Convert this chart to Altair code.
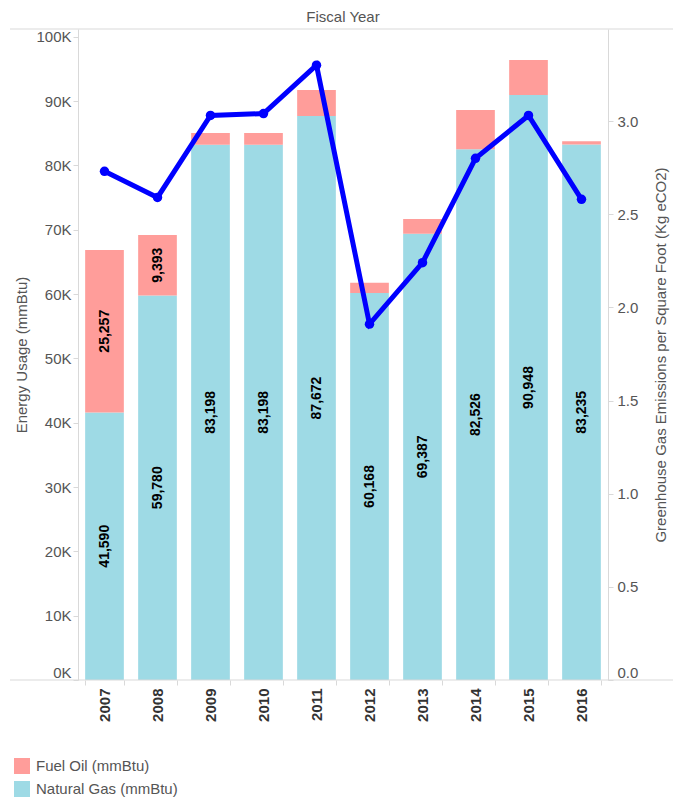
import altair as alt
import pandas as pd

years = ["2007", "2008", "2009", "2010", "2011", "2012", "2013", "2014", "2015", "2016"]
natural_gas = [41590, 59780, 83198, 83198, 87672, 60168, 69387, 82526, 90948, 83235]
fuel_oil = [25257, 9393, 1830, 1830, 4050, 1590, 2270, 6080, 5430, 500]
ghg_per_sqft = [2.73, 2.59, 3.03, 3.04, 3.30, 1.91, 2.24, 2.80, 3.03, 2.58]

series_names = ["Fuel Oil (mmBtu)", "Natural Gas (mmBtu)"]
series_colors = ["#FF9D9A", "#9EDAE5"]
left_ticks = [0, 10000, 20000, 30000, 40000, 50000, 60000, 70000, 80000, 90000, 100000]
right_ticks = [0.0, 0.5, 1.0, 1.5, 2.0, 2.5, 3.0]

rows = []
for y, ng, fo in zip(years, natural_gas, fuel_oil):
    rows.append({"year": y, "series": series_names[1], "value": ng, "ord": 0})
    rows.append({"year": y, "series": series_names[0], "value": fo, "ord": 1})
bars_df = pd.DataFrame(rows)
line_df = pd.DataFrame({"year": years, "ghg": ghg_per_sqft})
rule_df = pd.DataFrame({"k": [0]})

FONT = "Liberation Sans"
W, H = 530, 651
GRAY = "#d9d9d9"
TXT = "#555555"
zero_lift = {"condition": {"test": "datum.value === 0", "value": -8}, "value": 0}

x_axis = alt.Axis(
    labelAngle=270, labelFontWeight="bold", labelFontSize=15, labelColor="#333333",
    labelPadding=3, tickBand="extent", tickSize=5, tickColor=GRAY, domain=False,
    labelFont=FONT,
)
x_scale = alt.Scale(paddingInner=0.27, paddingOuter=0.135)

def x_enc():
    return alt.X("year:N", sort=years, title=None, scale=x_scale, axis=x_axis)

left_axis = alt.Axis(
    title="Energy Usage (mmBtu)", values=left_ticks,
    labelExpr="(datum.value/1000) + 'K'", grid=False,
    labelFont=FONT, labelFontSize=15, labelColor=TXT, labelPadding=2,
    labelOffset=zero_lift,
    tickSize=5, tickColor=GRAY, domainColor=GRAY,
    titleFont=FONT, titleFontSize=15, titleColor=TXT, titleFontWeight="normal",
    titlePadding=6,
)
left_scale = alt.Scale(domain=[0, 101200], nice=False)

bars = alt.Chart(bars_df).mark_bar().encode(
    x=x_enc(),
    y=alt.Y("value:Q", stack="zero", scale=left_scale, axis=left_axis),
    color=alt.Color(
        "series:N",
        scale=alt.Scale(domain=series_names, range=series_colors),
        legend=alt.Legend(
            title=None, orient="none", legendX=-64, legendY=729,
            direction="vertical", symbolType="square", symbolSize=256,
            symbolStrokeWidth=0, labelFontSize=15, labelColor=TXT,
            labelFont=FONT, labelOffset=6, rowPadding=7, padding=0,
        ),
    ),
    order=alt.Order("ord:Q"),
)

labels = (
    alt.Chart(bars_df)
    .transform_stack(
        stack="value", groupby=["year"], as_=["v0", "v1"],
        sort=[alt.SortField("ord", order="ascending")],
    )
    .transform_calculate(mid="(datum.v0 + datum.v1) / 2")
    .transform_filter("datum.value > 8000")
    .mark_text(angle=270, fontWeight="bold", fontSize=14, color="black", font=FONT)
    .encode(
        x=x_enc(),
        y=alt.Y("mid:Q", scale=left_scale, axis=left_axis),
        text=alt.Text("value:Q", format=",.0f"),
    )
)

top_rule = alt.Chart(rule_df).mark_rule(color=GRAY, strokeWidth=1).encode(
    x=alt.value(-68), x2=alt.value(W + 73), y=alt.value(0)
)
bottom_rule = alt.Chart(rule_df).mark_rule(color=GRAY, strokeWidth=1).encode(
    x=alt.value(-68), x2=alt.value(W + 73), y=alt.value(H)
)

left_layer = alt.layer(bars, labels, top_rule, bottom_rule)

line = alt.Chart(line_df).mark_line(
    color="#0000FF", strokeWidth=5,
    point=alt.OverlayMarkDef(color="#0000FF", size=90, filled=True),
).encode(
    x=x_enc(),
    y=alt.Y(
        "ghg:Q",
        scale=alt.Scale(domain=[0, 3.494], nice=False),
        axis=alt.Axis(
            orient="right", title="Greenhouse Gas Emissions per Square Foot (Kg eCO2)",
            values=right_ticks, format=".1f", grid=False,
            labelFont=FONT, labelFontSize=15, labelColor=TXT, labelPadding=4,
            labelOffset=zero_lift,
            tickSize=5, tickColor=GRAY, domainColor=GRAY,
            titleFont=FONT, titleFontSize=15, titleColor=TXT, titleFontWeight="normal",
            titleAngle=270, titleBaseline="top", titlePadding=16,
        ),
    ),
)

chart = (
    alt.layer(left_layer, line)
    .resolve_scale(y="independent")
    .properties(
        width=W, height=H,
        title=alt.TitleParams(
            "Fiscal Year", fontSize=15, font=FONT, fontWeight="normal",
            color=TXT, anchor="middle", offset=4,
        ),
        autosize=alt.AutoSizeParams(type="none"),
        padding={"left": 70, "top": 21, "right": 65, "bottom": 125},
    )
    .configure_view(stroke=None)
)

chart.save("out.html", embed_options={"renderer": "svg", "actions": False})
